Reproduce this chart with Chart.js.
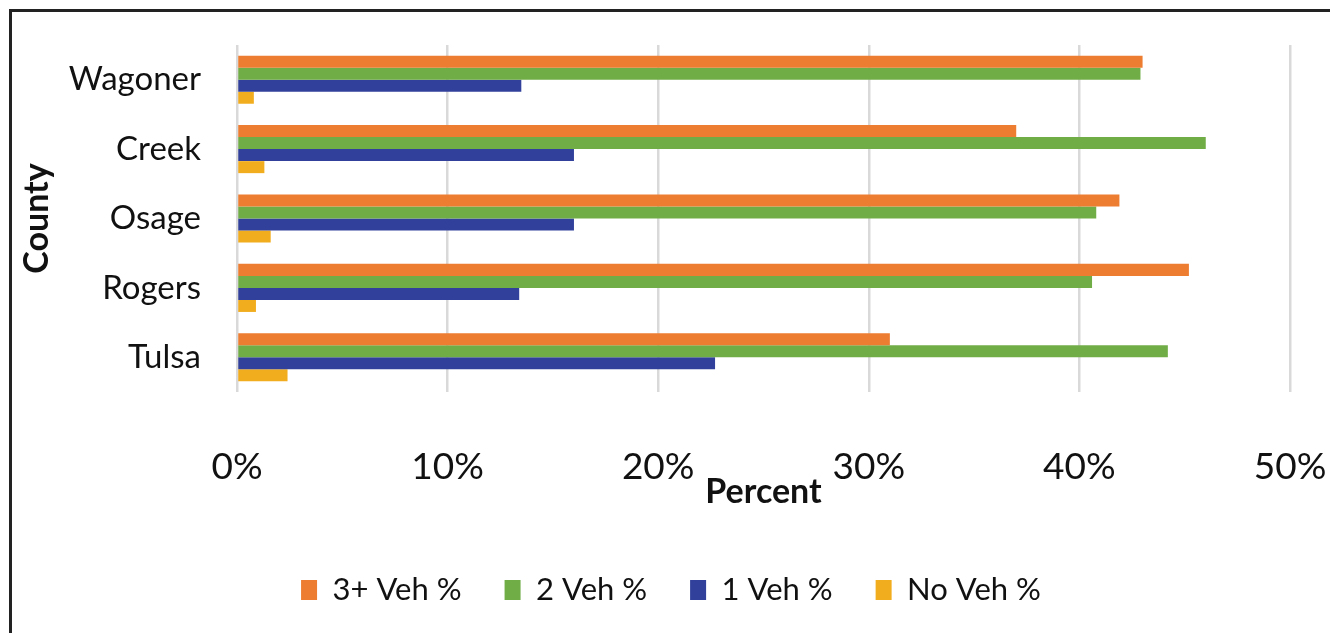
<!DOCTYPE html>
<html>
<head>
<meta charset="utf-8">
<script src="https://cdn.jsdelivr.net/npm/chart.js@4/dist/chart.umd.min.js"></script>
<style>
  html, body { margin: 0; padding: 0; background: #fff; overflow: hidden; }
  #frame { position: absolute; left: 9px; top: 9px; width: 1400px; height: 700px; border: 3px solid #222; }
  #wrap { position: absolute; left: 0; top: 0; width: 1330px; height: 633px; }
</style>
</head>
<body>
<div id="frame"></div>
<div id="wrap"><canvas id="chart" width="1330" height="633"></canvas></div>
<script>
// Household vehicle availability by county (share of households)
const counties = ['Wagoner', 'Creek', 'Osage', 'Rogers', 'Tulsa'];
const veh3plus = [43.0, 37.0, 41.9, 45.2, 31.0];
const veh2     = [42.9, 46.0, 40.8, 40.6, 44.2];
const veh1     = [13.5, 16.0, 16.0, 13.4, 22.7];
const vehNone  = [0.8, 1.3, 1.6, 0.9, 2.4];
const seriesNames = ['3+ Veh %', '2 Veh %', '1 Veh %', 'No Veh %'];
const xTicks = [0, 10, 20, 30, 40, 50];

const FONT = 'Lato, "Open Sans", sans-serif';

new Chart(document.getElementById('chart'), {
  type: 'bar',
  data: {
    labels: counties,
    datasets: [
      { label: seriesNames[0], data: veh3plus, backgroundColor: '#ED7D31' },
      { label: seriesNames[1], data: veh2,     backgroundColor: '#70AD47' },
      { label: seriesNames[2], data: veh1,     backgroundColor: '#31409A' },
      { label: seriesNames[3], data: vehNone,  backgroundColor: '#F2AD1E' }
    ]
  },
  options: {
    indexAxis: 'y',
    responsive: false,
    animation: false,
    datasets: { bar: { categoryPercentage: 0.693, barPercentage: 1.0, borderWidth: 0 } },
    layout: { padding: { left: 52, top: 45, right: 40, bottom: 17.5 } },
    plugins: {
      tooltip: { enabled: false },
      legend: {
        position: 'bottom',
        labels: {
          font: { family: FONT, size: 31 },
          color: '#111',
          boxWidth: 16,
          boxHeight: 20,
          padding: 43
        }
      }
    },
    scales: {
      x: {
        min: 0,
        max: 50,
        afterBuildTicks: (axis) => { axis.ticks = xTicks.map(v => ({ value: v })); },
        afterFit: (axis) => {
          axis.height = 139.5;
          axis.paddingLeft = 0;
          axis.paddingRight = 0;
        },
        grid: { color: '#D9D9D9', lineWidth: 2.5, drawTicks: false },
        border: { display: false },
        ticks: {
          padding: 53,
          color: '#111',
          font: { family: FONT, size: 37 },
          callback: (v) => v + '%'
        },
        title: {
          display: true,
          text: 'Percent',
          color: '#111',
          font: { family: FONT, size: 34, weight: 'bold' },
          padding: { top: 0, bottom: 19 }
        }
      },
      y: {
        afterFit: (axis) => {
          axis.width = 185;
          axis.paddingTop = 0;
          axis.paddingBottom = 0;
        },
        grid: { display: false, drawTicks: false },
        border: { display: false },
        ticks: {
          padding: 36,
          color: '#111',
          font: { family: FONT, size: 33 }
        },
        title: {
          display: true,
          text: 'County',
          color: '#111',
          font: { family: FONT, size: 34, weight: 'bold' },
          padding: { top: -35.4, bottom: 0 }
        }
      }
    }
  }
});
</script>
</body>
</html>
